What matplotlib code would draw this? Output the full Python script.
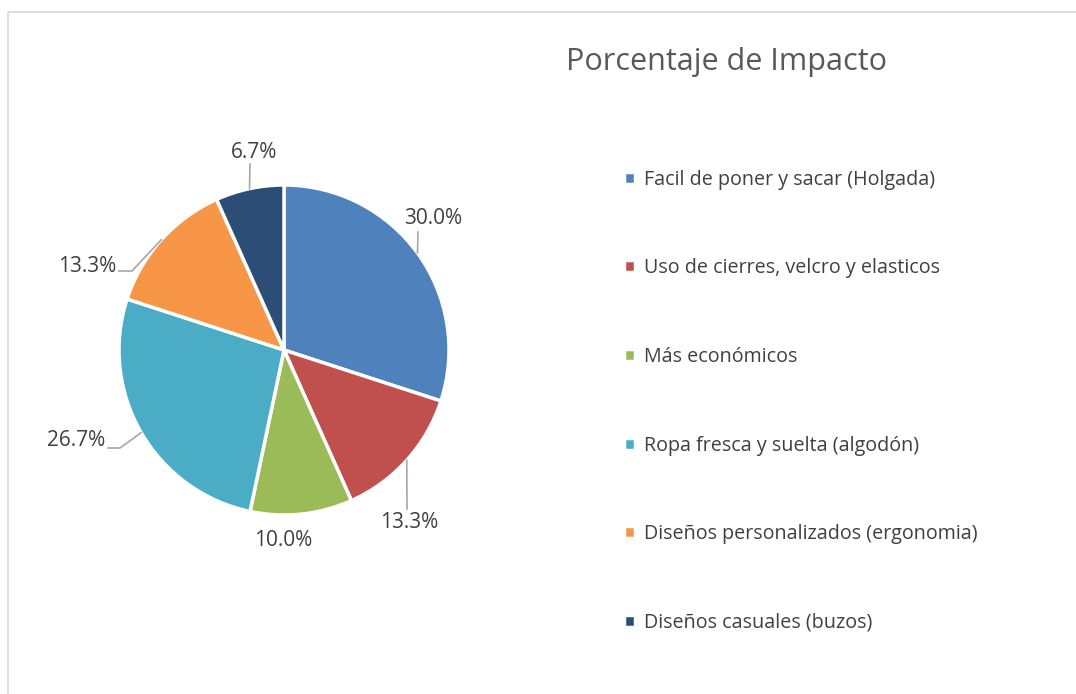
import matplotlib.pyplot as plt
import numpy as np
from matplotlib.patches import Rectangle

# datos
categorias = ['Facil de poner y sacar (Holgada)',
              'Uso de cierres, velcro y elasticos',
              'Más económicos',
              'Ropa fresca y suelta (algodón)',
              'Diseños personalizados (ergonomia)',
              'Diseños casuales (buzos)']
porcentajes = [30.0, 13.3, 10.0, 26.7, 13.3, 6.7]
colores = ['#4F81BD', '#C0504D', '#9BBB59', '#4BACC6', '#F79646', '#2C4D75']

plt.rcParams['font.family'] = ['Open Sans', 'DejaVu Sans']
gris = '#404040'

fig = plt.figure(figsize=(10.76, 6.94), dpi=100)
W, H = 1076, 694

# marco del grafico
fig.patches.append(Rectangle((8 / W, -0.2), 1.2, (H - 12) / H + 0.2, transform=fig.transFigure,
                             fill=False, edgecolor='#d9d9d9', linewidth=1.2))

# ejes del pie: centro (284, 350) px, radio 165 px
R = 165
lim = 1.7
side = 2 * lim * R
ax = fig.add_axes([(284 - side / 2) / W, (H - 350 - side / 2) / H, side / W, side / H])

wedges, _ = ax.pie(porcentajes, colors=colores, startangle=90, counterclock=False,
                   radius=1, wedgeprops=dict(edgecolor='white', linewidth=2.5))
ax.set_xlim(-lim, lim)
ax.set_ylim(-lim, lim)
ax.set_aspect('equal')
ax.axis('off')


def px(x, y):
    return (x - 284) / R, (350 - y) / R


# etiquetas: posicion del texto, alineacion y codo de la linea guia, en pixeles
etiquetas = [((433, 218), 'center', (418, 232)),
             ((409, 523), 'center', (407, 509)),
             ((283, 541), 'center', None),
             ((105, 441), 'right', (120, 448)),
             ((116, 267), 'right', (132, 271)),
             ((254, 152), 'center', (250, 164))]

ang = 90
for val, (pos, ha, codo) in zip(porcentajes, etiquetas):
    mid = np.deg2rad(ang - val * 3.6 / 2)
    ang -= val * 3.6
    ex, ey = np.cos(mid), np.sin(mid)
    tx, ty = px(*pos)
    ax.text(tx, ty, f'{val:.1f}%', ha=ha, va='center', fontsize=15, color=gris)
    if codo is not None:
        cx, cy = px(*codo)
        xs = [ex, cx]
        ys = [ey, cy]
        if ha == 'right':
            xs.append(px(pos[0] + 3, 0)[0])
            ys.append(cy)
        ax.plot(xs, ys, color='#a6a6a6', linewidth=1.2)

fig.text(726 / W, 1 - 62 / H, 'Porcentaje de Impacto', ha='center', va='center',
         fontsize=22, color='#595959')

leg = fig.legend(wedges, categorias, loc='upper left', bbox_to_anchor=(606 / W, 1 - 152 / H),
                 frameon=False, handlelength=0.55, handleheight=0.55, handletextpad=0.5,
                 labelspacing=3.48, fontsize=14.2)
for t in leg.get_texts():
    t.set_color(gris)

fig.savefig('out.png', dpi=100, facecolor='white')
